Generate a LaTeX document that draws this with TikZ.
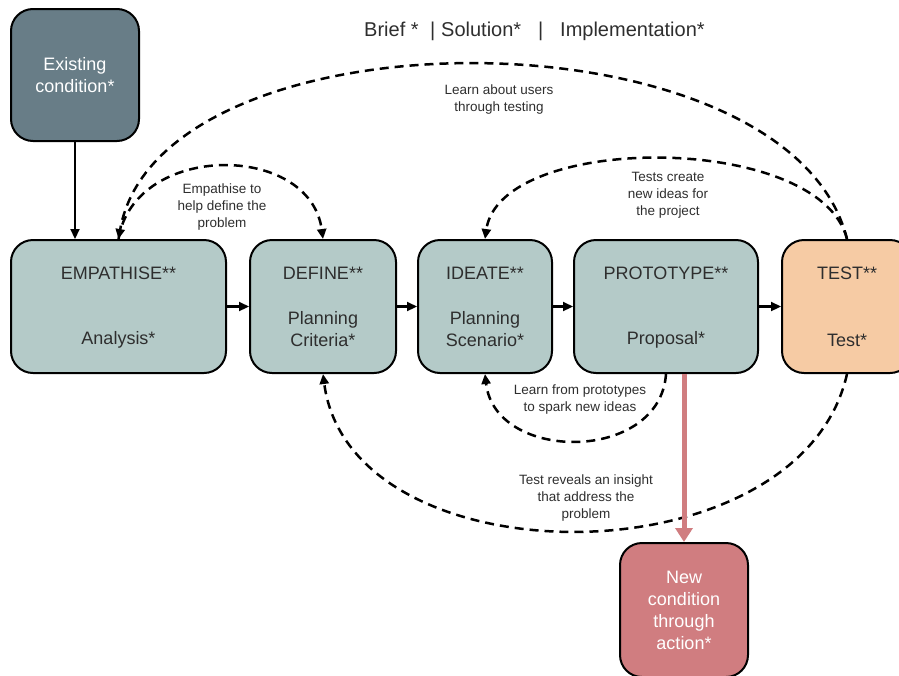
\documentclass[tikz,border=0pt]{standalone}
\usepackage{fontspec}
\setmainfont{Liberation Sans}
\usetikzlibrary{arrows.meta,calc}
\definecolor{slate}{HTML}{687D87}
\definecolor{sage}{HTML}{B4CAC8}
\definecolor{peach}{HTML}{F6CBA4}
\definecolor{rose}{HTML}{D07D80}
\definecolor{ink}{HTML}{2E2E2E}
\begin{document}
\begin{tikzpicture}[x=1pt,y=-1pt,
  box/.style={draw=black, line width=2pt, rounded corners=22pt, inner sep=0pt, minimum height=133pt},
  stage/.style={box, fill=sage},
  boxtext/.style={font=\fontsize{18}{22}\selectfont, text=ink, align=center, inner sep=0pt},
  whitetext/.style={font=\fontsize{18}{22}\selectfont, text=white, align=center, inner sep=0pt},
  note/.style={font=\fontsize{13.5}{17}\selectfont, text=ink, align=center, inner sep=0pt},
  headtext/.style={font=\fontsize{20}{24}\selectfont, text=ink, anchor=base west, inner sep=0pt},
  flow/.style={line width=2.2pt, -{Triangle[length=10pt,width=9pt]}},
  loop/.style={line width=2.5pt, dash pattern=on 9pt off 6pt, -{Triangle[length=10pt,width=9pt]}},
  action/.style={line width=5pt, draw=rose, -{Triangle[length=14pt,width=17pt]}}
]
\useasboundingbox (0,0) rectangle (899,675);
\clip (0,0) rectangle (899,675);

% header
\node[headtext] (hbrief) at (364,36) {Brief *};
\node[headtext] (hbar1) at (430,36) {|};
\node[headtext] (hsol) at (441,36) {Solution*};
\node[headtext] (hbar2) at (538,36) {|};
\node[headtext] (himp) at (560,36) {Implementation*};

% boxes
\node[box, fill=slate, minimum width=128pt, minimum height=132pt] (exist) at (75,75) {};
\node[stage, minimum width=215pt] (emp) at (118.5,306.5) {};
\node[stage, minimum width=146pt] (def) at (323,306.5) {};
\node[stage, minimum width=134pt] (ide) at (485,306.5) {};
\node[stage, minimum width=184pt] (pro) at (666,306.5) {};
\node[box, fill=peach, minimum width=130pt] (tst) at (847,306.5) {};
\node[box, fill=rose, minimum width=128pt, minimum height=134pt] (new) at (684,610) {};

% box texts
\node[whitetext] (existt) at (exist.center) {Existing\\condition*};
\node[boxtext] (empt) at ($(emp.center)+(0,-33.5)$) {EMPATHISE**};
\node[boxtext] (emps) at ($(emp.center)+(0,33.5)$) {Analysis*};
\node[boxtext] (deft) at ($(def.center)+(0,-33.5)$) {DEFINE**};
\node[boxtext] (defs) at ($(def.center)+(0,22.5)$) {Planning\\Criteria*};
\node[boxtext] (idet) at ($(ide.center)+(0,-33.5)$) {IDEATE**};
\node[boxtext] (ides) at ($(ide.center)+(0,22.5)$) {Planning\\Scenario*};
\node[boxtext] (prot) at ($(pro.center)+(0,-33.5)$) {PROTOTYPE**};
\node[boxtext] (pros) at ($(pro.center)+(0,33.5)$) {Proposal*};
\node[boxtext] (tstt) at ($(tst.center)+(0,-33.5)$) {TEST**};
\node[boxtext] (tsts) at ($(tst.center)+(0,33.5)$) {Test*};
\node[whitetext] (newt) at (new.center) {New\\condition\\through\\action*};

% main flow
\draw[flow] (exist) -- (exist |- emp.north);
\draw[flow] (emp) -- (def);
\draw[flow] (def) -- (ide);
\draw[flow] (ide) -- (pro);
\draw[flow] (pro) -- (tst);

% feedback loops
\draw[loop] (tst.north) .. controls +(-58,-233) and +(41,-233) .. (emp.north);
\draw[loop] (emp.north) .. controls +(16,-97) and +(-13,-97) .. (def.north);
\draw[loop] (tst.north) .. controls +(-27,-107) and +(15,-107) .. (ide.north);
\draw[loop] (pro.south) .. controls +(-6,89) and +(10,89) .. (ide.south);
\draw[loop] (tst.south) .. controls +(-47,209) and +(27,209) .. (def.south);

% loop labels
\node[note] (l1) at (499,100) {Learn about users\\through testing};
\node[note] (l2) at (222,207) {Empathise to\\help define the\\problem};
\node[note] (l3) at (668,195) {Tests create\\new ideas for\\the project};
\node[note] (l4) at (580,400) {Learn from prototypes\\to spark new ideas};
\node[note] (l5) at (586,498) {Test reveals an insight\\that address the\\problem};

% outcome
\draw[action] (new.north |- pro.south) -- (new.north);
\end{tikzpicture}
\end{document}
